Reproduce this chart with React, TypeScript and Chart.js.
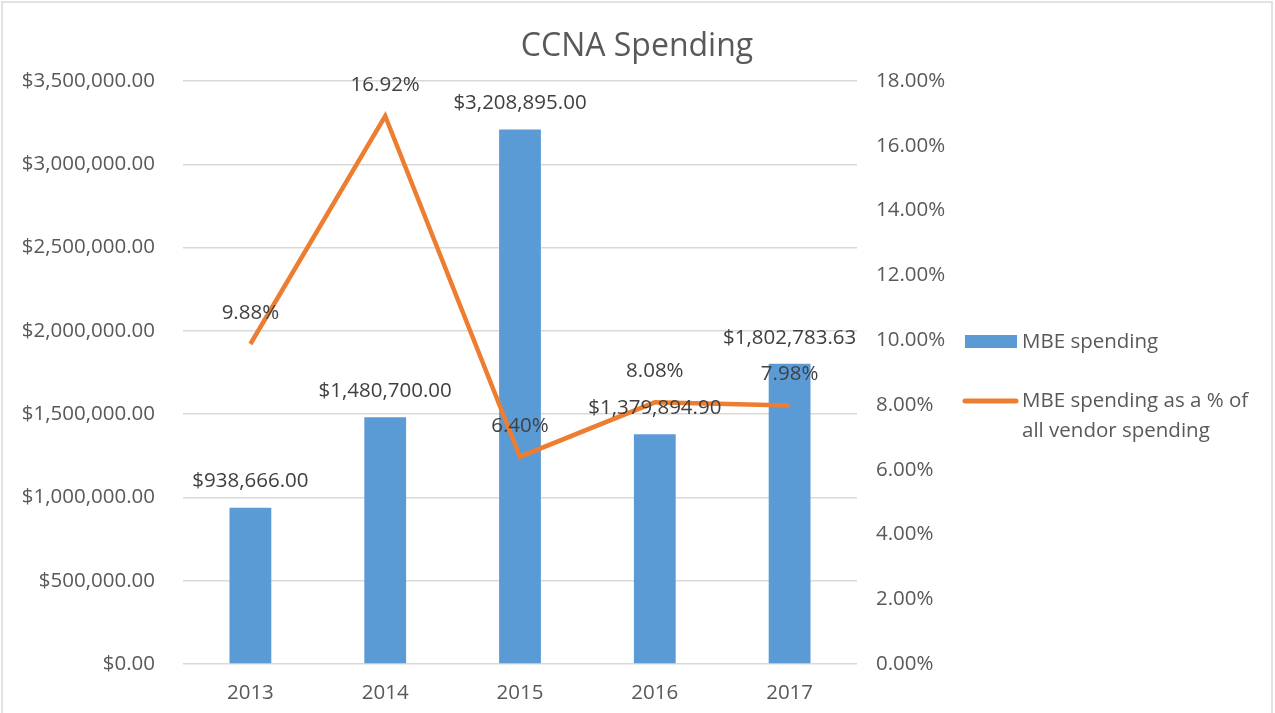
import React, { useEffect, useRef } from "react";
import { Chart, registerables } from "chart.js";

Chart.register(...registerables);

const categories = ["2013", "2014", "2015", "2016", "2017"];
const mbeSpending = [938666.0, 1480700.0, 3208895.0, 1379894.9, 1802783.63];
const mbeShare = [0.0988, 0.1692, 0.064, 0.0808, 0.0798];
const barLabels = ["$938,666.00", "$1,480,700.00", "$3,208,895.00", "$1,379,894.90", "$1,802,783.63"];
const lineLabels = ["9.88%", "16.92%", "6.40%", "8.08%", "7.98%"];
const titleText = "CCNA Spending";
const legendBar = ["MBE spending"];
const legendLine = ["MBE spending as a % of", "all vendor spending"];

const FONT = "'Open Sans', sans-serif";
const FS = 20.5;
const BLUE = "#5B9BD5";
const ORANGE = "#ED7D31";
const TEXT = "#595959";
const LABEL = "#404040";

const fmtMoney = (v: number) =>
  "$" + v.toLocaleString("en-US", { minimumFractionDigits: 2, maximumFractionDigits: 2 });
const fmtPct = (v: number) => (v * 100).toFixed(2) + "%";

const decorPlugin = {
  id: "decor",
  beforeDraw(chart: any) {
    const ctx = chart.ctx;
    ctx.save();
    ctx.strokeStyle = "#d9d9d9";
    ctx.lineWidth = 1.5;
    ctx.strokeRect(2, 2, 1270, 730);
    ctx.restore();
  },
  afterDatasetsDraw(chart: any) {
    const ctx = chart.ctx;
    ctx.save();
    ctx.font = `${FS}px ${FONT}`;
    ctx.fillStyle = LABEL;
    ctx.textAlign = "center";
    ctx.textBaseline = "middle";
    const barMeta = chart.getDatasetMeta(1);
    barMeta.data.forEach((el: any, i: number) => {
      ctx.fillText(barLabels[i], el.x, el.y - 26);
    });
    const lineMeta = chart.getDatasetMeta(0);
    lineMeta.data.forEach((el: any, i: number) => {
      ctx.fillText(lineLabels[i], el.x, el.y - 31);
    });

    // title
    ctx.font = `32px ${FONT}`;
    ctx.fillStyle = TEXT;
    ctx.fillText(titleText, 637, 47);

    // legend
    ctx.textAlign = "left";
    ctx.font = `${FS}px ${FONT}`;
    ctx.fillStyle = BLUE;
    ctx.fillRect(965, 335, 52, 13);
    ctx.fillStyle = TEXT;
    ctx.fillText(legendBar[0], 1022, 342);
    ctx.strokeStyle = ORANGE;
    ctx.lineWidth = 5;
    ctx.lineCap = "round";
    ctx.beginPath();
    ctx.moveTo(965, 401);
    ctx.lineTo(1016, 401);
    ctx.stroke();
    ctx.fillText(legendLine[0], 1022, 401);
    ctx.fillText(legendLine[1], 1022, 431);
    ctx.restore();
  },
};

export default function App() {
  const ref = useRef<HTMLCanvasElement>(null);
  useEffect(() => {
    if (!ref.current) return;
    const chart = new Chart(ref.current, {
      type: "bar",
      data: {
        labels: categories,
        datasets: [
          {
            type: "line",
            label: "MBE spending as a % of all vendor spending",
            data: mbeShare,
            yAxisID: "y1",
            borderColor: ORANGE,
            backgroundColor: ORANGE,
            borderWidth: 4.5,
            pointRadius: 0,
            tension: 0,
            order: 0,
          } as any,
          {
            type: "bar",
            label: "MBE spending",
            data: mbeSpending,
            yAxisID: "y",
            backgroundColor: BLUE,
            barPercentage: 0.31,
            categoryPercentage: 1,
            order: 1,
          },
        ],
      },
      options: {
        responsive: false,
        animation: false,
        layout: { padding: { top: 81, right: 318, left: 0, bottom: 0 } },
        plugins: { legend: { display: false }, tooltip: { enabled: false }, title: { display: false } },
        scales: {
          x: {
            grid: { display: false, drawTicks: false },
            border: { display: false },
            ticks: { color: TEXT, font: { family: FONT, size: FS }, padding: 17 },
            afterFit: (s: any) => {
              s.height = 49;
            },
          },
          y: {
            position: "left",
            min: 0,
            max: 3500000,
            grid: { color: "#d9d9d9", lineWidth: 1.5, drawTicks: false },
            border: { display: false },
            ticks: {
              stepSize: 500000,
              color: TEXT,
              font: { family: FONT, size: FS },
              padding: 28,
              callback: (v: any) => fmtMoney(Number(v)),
            },
            afterFit: (s: any) => {
              s.width = 183;
            },
          },
          y1: {
            position: "right",
            min: 0,
            max: 0.18,
            grid: { display: false, drawTicks: false },
            border: { display: false },
            ticks: {
              stepSize: 0.02,
              color: TEXT,
              font: { family: FONT, size: FS },
              padding: 19,
              callback: (v: any) => fmtPct(Number(v)),
            },
            afterFit: (s: any) => {
              s.width = 100;
            },
          },
        },
      },
      plugins: [decorPlugin],
    });
    return () => chart.destroy();
  }, []);
  return (
    <div style={{ position: "absolute", left: 0, top: 0, width: 1275, height: 713, background: "#fff" }}>
      <canvas ref={ref} width={1275} height={713} style={{ display: "block" }} />
    </div>
  );
}
